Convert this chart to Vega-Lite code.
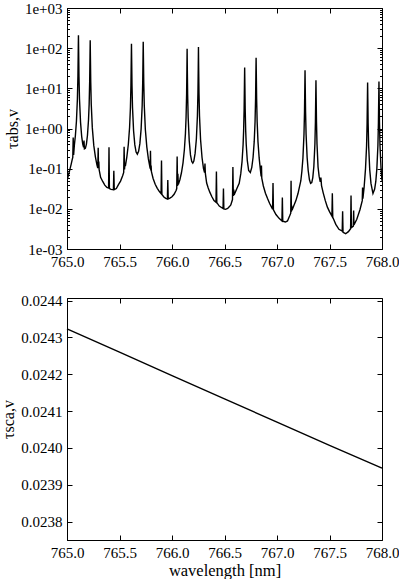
{
 "$schema": "https://vega.github.io/schema/vega-lite/v6.json",
 "padding": {"left": 0, "top": 0, "right": 0, "bottom": 0},
 "config": {
  "font": "Liberation Serif",
  "view": {"stroke": "black", "strokeWidth": 1},
  "axis": {"grid": false, "labelFont": "Liberation Serif", "labelFontSize": 15, "labelColor": "black", "labelFlush": false, "labelOverlap": false, "titleFont": "Liberation Serif", "titleFontSize": 16, "titleFontWeight": "normal", "titleColor": "black", "domainColor": "black", "tickColor": "black", "tickSize": -5, "labelPadding": 10},
  "concat": {"spacing": 23}
 },
 "datasets": {
  "abs": [
{"w":765.000,"t":0.050},{"w":765.020,"t":0.080},{"w":765.040,"t":0.130},{"w":765.050,"t":0.170},{"w":765.055,"t":0.190},{"w":765.059,"t":0.600},{"w":765.063,"t":0.220},{"w":765.070,"t":0.380},{"w":765.080,"t":0.670},{"w":765.090,"t":1.53},{"w":765.099,"t":5.4},{"w":765.104,"t":20},{"w":765.107,"t":83},{"w":765.109,"t":210},{"w":765.111,"t":83},{"w":765.114,"t":20},{"w":765.119,"t":5.45},{"w":765.129,"t":1.42},{"w":765.140,"t":0.63},{"w":765.150,"t":0.41},{"w":765.158,"t":0.34},{"w":765.162,"t":0.50},{"w":765.166,"t":0.31},{"w":765.175,"t":0.32},{"w":765.185,"t":0.41},{"w":765.195,"t":0.68},{"w":765.205,"t":1.65},{"w":765.211,"t":4.05},{"w":765.216,"t":14.9},{"w":765.219,"t":62},{"w":765.221,"t":158},{"w":765.223,"t":62},{"w":765.226,"t":14.9},{"w":765.231,"t":4.04},{"w":765.241,"t":1.05},{"w":765.255,"t":0.38},{"w":765.270,"t":0.20},{"w":765.285,"t":0.124},{"w":765.293,"t":0.104},{"w":765.297,"t":0.33},{"w":765.300,"t":0.11},{"w":765.303,"t":0.15},{"w":765.306,"t":0.095},{"w":765.320,"t":0.061},{"w":765.340,"t":0.048},{"w":765.360,"t":0.039},{"w":765.380,"t":0.034},{"w":765.396,"t":0.033},{"w":765.400,"t":0.34},{"w":765.404,"t":0.032},{"w":765.420,"t":0.0305},{"w":765.442,"t":0.030},{"w":765.446,"t":0.089},{"w":765.450,"t":0.030},{"w":765.470,"t":0.032},{"w":765.490,"t":0.040},{"w":765.510,"t":0.049},{"w":765.530,"t":0.067},{"w":765.540,"t":0.081},{"w":765.544,"t":0.35},{"w":765.548,"t":0.095},{"w":765.552,"t":0.14},{"w":765.556,"t":0.115},{"w":765.570,"t":0.197},{"w":765.584,"t":0.40},{"w":765.596,"t":1.06},{"w":765.604,"t":3.3},{"w":765.609,"t":12.1},{"w":765.612,"t":51},{"w":765.614,"t":129},{"w":765.616,"t":51},{"w":765.619,"t":12.1},{"w":765.624,"t":3.31},{"w":765.634,"t":0.88},{"w":765.646,"t":0.39},{"w":765.658,"t":0.26},{"w":765.670,"t":0.23},{"w":765.682,"t":0.27},{"w":765.694,"t":0.42},{"w":765.706,"t":0.98},{"w":765.716,"t":3.73},{"w":765.721,"t":13.8},{"w":765.724,"t":57},{"w":765.726,"t":145},{"w":765.728,"t":57},{"w":765.731,"t":13.8},{"w":765.736,"t":3.73},{"w":765.746,"t":0.96},{"w":765.760,"t":0.35},{"w":765.775,"t":0.175},{"w":765.790,"t":0.107},{"w":765.792,"t":0.10},{"w":765.795,"t":0.28},{"w":765.798,"t":0.09},{"w":765.801,"t":0.12},{"w":765.804,"t":0.084},{"w":765.820,"t":0.057},{"w":765.840,"t":0.041},{"w":765.860,"t":0.0325},{"w":765.880,"t":0.027},{"w":765.896,"t":0.024},{"w":765.900,"t":0.16},{"w":765.904,"t":0.023},{"w":765.920,"t":0.020},{"w":765.940,"t":0.0182},{"w":765.956,"t":0.0176},{"w":765.960,"t":0.052},{"w":765.964,"t":0.0176},{"w":765.980,"t":0.0185},{"w":766.000,"t":0.020},{"w":766.020,"t":0.023},{"w":766.040,"t":0.029},{"w":766.045,"t":0.032},{"w":766.049,"t":0.20},{"w":766.053,"t":0.037},{"w":766.056,"t":0.075},{"w":766.060,"t":0.040},{"w":766.075,"t":0.053},{"w":766.090,"t":0.079},{"w":766.105,"t":0.14},{"w":766.118,"t":0.30},{"w":766.128,"t":0.75},{"w":766.134,"t":1.87},{"w":766.139,"t":6.9},{"w":766.142,"t":29},{"w":766.144,"t":97},{"w":766.146,"t":29},{"w":766.149,"t":6.9},{"w":766.154,"t":1.87},{"w":766.164,"t":0.50},{"w":766.176,"t":0.22},{"w":766.188,"t":0.15},{"w":766.198,"t":0.137},{"w":766.208,"t":0.155},{"w":766.220,"t":0.24},{"w":766.232,"t":0.54},{"w":766.242,"t":2.05},{"w":766.247,"t":7.6},{"w":766.250,"t":32},{"w":766.252,"t":107},{"w":766.254,"t":32},{"w":766.257,"t":7.6},{"w":766.262,"t":2.06},{"w":766.272,"t":0.53},{"w":766.286,"t":0.19},{"w":766.300,"t":0.10},{"w":766.310,"t":0.08},{"w":766.314,"t":0.135},{"w":766.318,"t":0.075},{"w":766.330,"t":0.044},{"w":766.345,"t":0.033},{"w":766.360,"t":0.026},{"w":766.380,"t":0.020},{"w":766.400,"t":0.016},{"w":766.419,"t":0.0145},{"w":766.423,"t":0.085},{"w":766.427,"t":0.0143},{"w":766.450,"t":0.0117},{"w":766.486,"t":0.0102},{"w":766.490,"t":0.032},{"w":766.494,"t":0.0099},{"w":766.510,"t":0.0097},{"w":766.530,"t":0.0102},{"w":766.545,"t":0.0112},{"w":766.560,"t":0.0125},{"w":766.576,"t":0.017},{"w":766.580,"t":0.11},{"w":766.584,"t":0.021},{"w":766.588,"t":0.030},{"w":766.592,"t":0.022},{"w":766.600,"t":0.025},{"w":766.620,"t":0.033},{"w":766.640,"t":0.043},{"w":766.655,"t":0.075},{"w":766.667,"t":0.15},{"w":766.677,"t":0.39},{"w":766.682,"t":0.86},{"w":766.687,"t":3.1},{"w":766.690,"t":13},{"w":766.692,"t":33},{"w":766.694,"t":13},{"w":766.697,"t":3.1},{"w":766.702,"t":0.86},{"w":766.707,"t":0.40},{"w":766.717,"t":0.16},{"w":766.730,"t":0.09},{"w":766.746,"t":0.080},{"w":766.760,"t":0.108},{"w":766.772,"t":0.19},{"w":766.783,"t":0.47},{"w":766.791,"t":1.48},{"w":766.796,"t":5.5},{"w":766.799,"t":23},{"w":766.801,"t":58},{"w":766.803,"t":23},{"w":766.806,"t":5.5},{"w":766.811,"t":1.48},{"w":766.819,"t":0.46},{"w":766.830,"t":0.185},{"w":766.842,"t":0.093},{"w":766.849,"t":0.064},{"w":766.852,"t":0.12},{"w":766.855,"t":0.058},{"w":766.870,"t":0.037},{"w":766.890,"t":0.0245},{"w":766.910,"t":0.018},{"w":766.930,"t":0.0136},{"w":766.958,"t":0.0098},{"w":766.962,"t":0.044},{"w":766.966,"t":0.0095},{"w":766.990,"t":0.0072},{"w":767.020,"t":0.0058},{"w":767.047,"t":0.0050},{"w":767.051,"t":0.019},{"w":767.055,"t":0.0049},{"w":767.080,"t":0.0047},{"w":767.100,"t":0.0050},{"w":767.120,"t":0.0066},{"w":767.131,"t":0.0078},{"w":767.134,"t":0.050},{"w":767.137,"t":0.0085},{"w":767.140,"t":0.012},{"w":767.143,"t":0.0092},{"w":767.160,"t":0.012},{"w":767.180,"t":0.016},{"w":767.200,"t":0.024},{"w":767.227,"t":0.050},{"w":767.237,"t":0.086},{"w":767.247,"t":0.185},{"w":767.257,"t":0.72},{"w":767.262,"t":2.64},{"w":767.265,"t":11},{"w":767.267,"t":28},{"w":767.269,"t":11},{"w":767.272,"t":2.64},{"w":767.277,"t":0.72},{"w":767.287,"t":0.19},{"w":767.297,"t":0.09},{"w":767.309,"t":0.053},{"w":767.320,"t":0.043},{"w":767.331,"t":0.045},{"w":767.341,"t":0.060},{"w":767.351,"t":0.113},{"w":767.361,"t":0.41},{"w":767.366,"t":1.5},{"w":767.369,"t":6.3},{"w":767.371,"t":16},{"w":767.373,"t":6.3},{"w":767.376,"t":1.5},{"w":767.381,"t":0.41},{"w":767.391,"t":0.11},{"w":767.401,"t":0.065},{"w":767.412,"t":0.047},{"w":767.418,"t":0.06},{"w":767.424,"t":0.038},{"w":767.440,"t":0.025},{"w":767.460,"t":0.016},{"w":767.480,"t":0.011},{"w":767.500,"t":0.0085},{"w":767.523,"t":0.0066},{"w":767.527,"t":0.0245},{"w":767.531,"t":0.0062},{"w":767.560,"t":0.0041},{"w":767.590,"t":0.0031},{"w":767.621,"t":0.0028},{"w":767.625,"t":0.0087},{"w":767.629,"t":0.0026},{"w":767.654,"t":0.0024},{"w":767.680,"t":0.0027},{"w":767.701,"t":0.0032},{"w":767.705,"t":0.0214},{"w":767.709,"t":0.0034},{"w":767.727,"t":0.0037},{"w":767.730,"t":0.0091},{"w":767.733,"t":0.0040},{"w":767.760,"t":0.0055},{"w":767.790,"t":0.0095},{"w":767.812,"t":0.016},{"w":767.815,"t":0.034},{"w":767.818,"t":0.018},{"w":767.830,"t":0.035},{"w":767.843,"t":0.10},{"w":767.853,"t":0.36},{"w":767.858,"t":1.33},{"w":767.861,"t":5.5},{"w":767.863,"t":14},{"w":767.865,"t":5.5},{"w":767.868,"t":1.33},{"w":767.873,"t":0.36},{"w":767.883,"t":0.095},{"w":767.895,"t":0.043},{"w":767.914,"t":0.024},{"w":767.930,"t":0.031},{"w":767.941,"t":0.048},{"w":767.951,"t":0.10},{"w":767.961,"t":0.37},{"w":767.966,"t":1.4},{"w":767.969,"t":5.8},{"w":767.971,"t":14.8},{"w":767.973,"t":5.8},{"w":767.976,"t":1.4},{"w":767.981,"t":0.37},{"w":767.991,"t":0.10},{"w":768.000,"t":0.05}
  ],
  "sca": [
   {"w":765.0,"t":0.024323},{"w":765.5,"t":0.024260},{"w":766.0,"t":0.024196},{"w":766.5,"t":0.024133},{"w":767.0,"t":0.024070},{"w":767.5,"t":0.024007},{"w":768.0,"t":0.023945}
  ]
 },
 "vconcat": [
  {
   "width": 315, "height": 241,
   "data": {"name": "abs"},
   "layer": [
    {"mark": {"type": "line", "color": "black", "strokeWidth": 1.4, "clip": true},
     "encoding": {
      "x": {"field": "w", "type": "quantitative", "scale": {"domain": [765, 768], "nice": false, "zero": false},
            "axis": {"orient": "bottom", "values": [765, 765.5, 766, 766.5, 767, 767.5, 768], "format": ".1f", "title": null}},
      "y": {"field": "t", "type": "quantitative", "scale": {"type": "log", "domain": [0.001, 1000], "nice": false},
            "axis": {"orient": "left", "values": [0.001, 0.01, 0.1, 1, 10, 100, 1000], "labelExpr": "'1e' + (datum.value >= 1 ? '+' : '-') + '0' + format(abs(round(log(datum.value)/LN10)), 'd')", "title": "τabs,v", "titlePadding": 4}}
     }},
    {"mark": {"type": "line", "opacity": 0},
     "encoding": {
      "x": {"field": "w", "type": "quantitative", "axis": {"orient": "top", "values": [765, 765.5, 766, 766.5, 767, 767.5, 768], "labels": false, "title": null, "domain": false}},
      "y": {"field": "t", "type": "quantitative", "axis": {"orient": "right", "values": [0.001, 0.01, 0.1, 1, 10, 100, 1000], "labels": false, "title": null, "domain": false}}
     }},
    {"mark": {"type": "line", "opacity": 0},
     "encoding": {
      "x": {"field": "w", "type": "quantitative", "axis": null},
      "y": {"field": "t", "type": "quantitative", "axis": {"orient": "left", "values": [0.002,0.003,0.004,0.005,0.006,0.007,0.008,0.009,0.02,0.03,0.04,0.05,0.06,0.07,0.08,0.09,0.2,0.3,0.4,0.5,0.6,0.7,0.8,0.9,2,3,4,5,6,7,8,9,20,30,40,50,60,70,80,90,200,300,400,500,600,700,800,900], "labels": false, "title": null, "domain": false, "tickSize": -2.5}}
     }},
    {"mark": {"type": "line", "opacity": 0},
     "encoding": {
      "x": {"field": "w", "type": "quantitative", "axis": null},
      "y": {"field": "t", "type": "quantitative", "axis": {"orient": "right", "values": [0.002,0.003,0.004,0.005,0.006,0.007,0.008,0.009,0.02,0.03,0.04,0.05,0.06,0.07,0.08,0.09,0.2,0.3,0.4,0.5,0.6,0.7,0.8,0.9,2,3,4,5,6,7,8,9,20,30,40,50,60,70,80,90,200,300,400,500,600,700,800,900], "labels": false, "title": null, "domain": false, "tickSize": -2.5}}
     }}
   ],
   "resolve": {"axis": {"x": "independent", "y": "independent"}}
  },
  {
   "width": 315, "height": 242,
   "data": {"name": "sca"},
   "layer": [
    {"mark": {"type": "line", "color": "black", "strokeWidth": 1.4},
     "encoding": {
      "x": {"field": "w", "type": "quantitative", "scale": {"domain": [765, 768], "nice": false, "zero": false},
            "axis": {"orient": "bottom", "values": [765, 765.5, 766, 766.5, 767, 767.5, 768], "format": ".1f", "title": "wavelength [nm]", "titlePadding": 2, "titleFontSize": 16.5}},
      "y": {"field": "t", "type": "quantitative", "scale": {"domain": [0.02375, 0.024407], "nice": false, "zero": false},
            "axis": {"orient": "left", "values": [0.0238, 0.0239, 0.024, 0.0241, 0.0242, 0.0243, 0.0244], "format": ".4f", "title": "τsca,v", "titlePadding": 4}}
     }},
    {"mark": {"type": "line", "opacity": 0},
     "encoding": {
      "x": {"field": "w", "type": "quantitative", "axis": {"orient": "top", "values": [765, 765.5, 766, 766.5, 767, 767.5, 768], "labels": false, "title": null, "domain": false}},
      "y": {"field": "t", "type": "quantitative", "axis": {"orient": "right", "values": [0.0238, 0.0239, 0.024, 0.0241, 0.0242, 0.0243, 0.0244], "labels": false, "title": null, "domain": false}}
     }}
   ],
   "resolve": {"axis": {"x": "independent", "y": "independent"}}
  }
 ]
}
